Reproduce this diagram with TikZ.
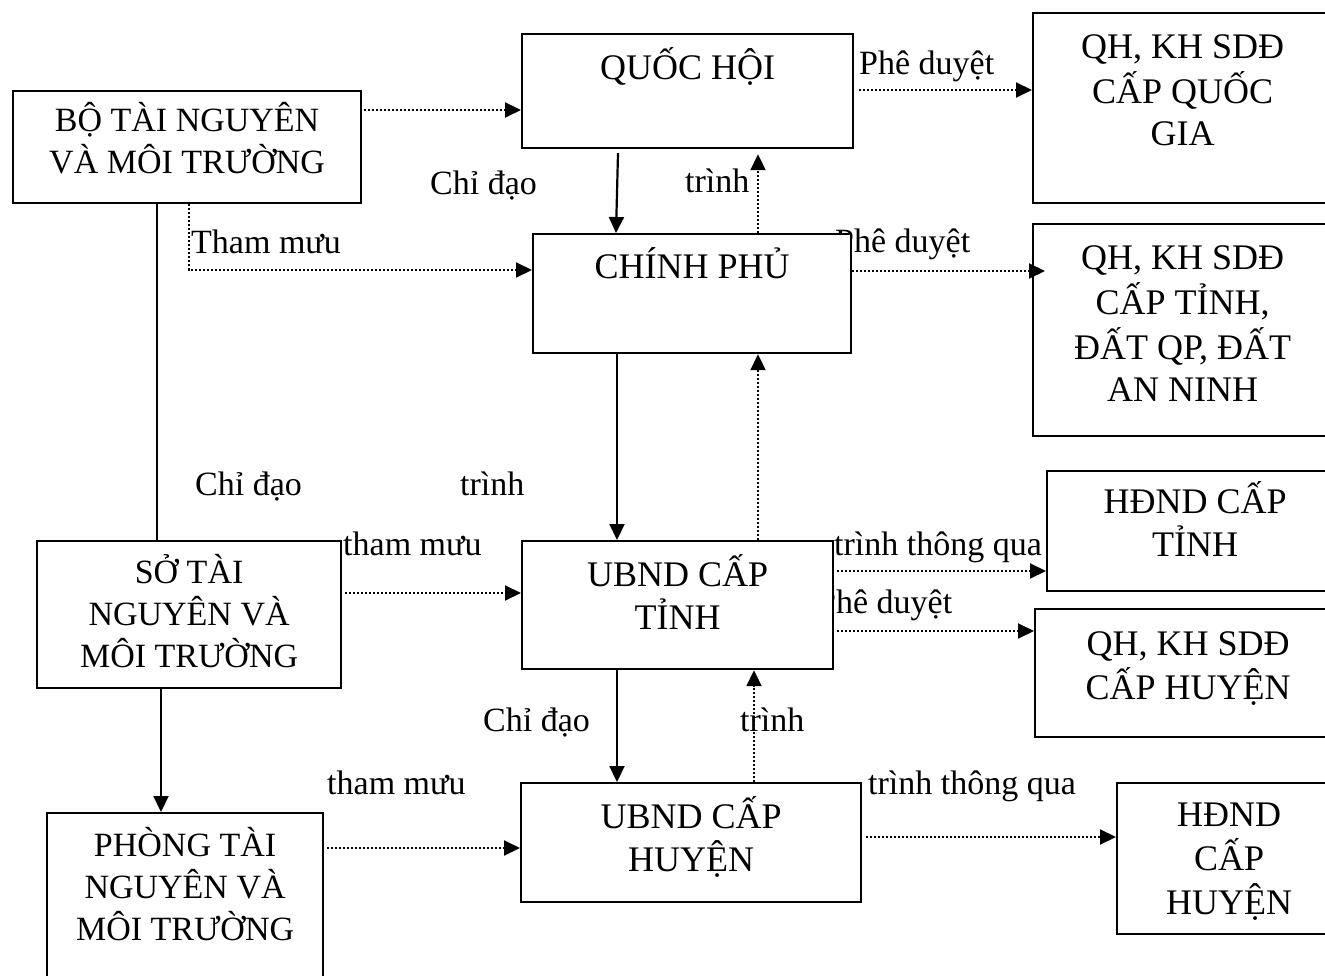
\documentclass[tikz,border=0pt]{standalone}
\usepackage{fontspec}
\setmainfont{Liberation Serif}
\usetikzlibrary{arrows.meta,calc}
\begin{document}
\begin{tikzpicture}[x=1pt,y=-1pt,
  box/.style={draw, line width=2.2pt, fill=white, inner sep=0pt, anchor=north west},
  bigtxt/.style={font=\fontsize{36}{42}\selectfont, inner sep=0pt, anchor=base},
  midtxt/.style={font=\fontsize{34}{42}\selectfont, inner sep=0pt, anchor=base},
  lbl/.style={font=\fontsize{34}{40}\selectfont, inner sep=0pt, anchor=base west},
  solidarrow/.style={line width=2.2pt, -{Triangle[length=16pt,width=15pt]}},
  solidline/.style={line width=2.2pt},
  dotarrow/.style={line width=2pt, dash pattern=on 2pt off 2pt, -{Triangle[length=16pt,width=15pt]}}
]
\useasboundingbox[fill=white] (0,0) rectangle (1325,976);

% connector labels (drawn first, boxes may cover them)
\node[lbl] (l1) at (859,75) {Phê duyệt};
\node[lbl] (l2) at (430,195) {Chỉ đạo};
\node[lbl] (l3) at (685,193) {trình};
\node[lbl] (l4) at (191,254) {Tham mưu};
\node[lbl] (l5) at (835,253) {Phê duyệt};
\node[lbl] (l6) at (195,495) {Chỉ đạo};
\node[lbl] (l7) at (460,495) {trình};
\node[lbl] (l8) at (343,555) {tham mưu};
\node[lbl] (l9) at (834,555) {trình thông qua};
\node[lbl] (l10) at (817,613) {Phê duyệt};
\node[lbl] (l11) at (483,731) {Chỉ đạo};
\node[lbl] (l12) at (740,731) {trình};
\node[lbl] (l13) at (327,794) {tham mưu};
\node[lbl] (l14) at (868,794) {trình thông qua};

% boxes
\node[box, minimum width=348pt, minimum height=112pt] (bo) at (12,90) {};
\node[box, minimum width=331pt, minimum height=114pt] (qh) at (521,33) {};
\node[box, minimum width=299pt, minimum height=190pt] (qg) at (1032,12) {};
\node[box, minimum width=318pt, minimum height=119pt] (cp) at (532,233) {};
\node[box, minimum width=299pt, minimum height=212pt] (tp) at (1032,223) {};
\node[box, minimum width=296pt, minimum height=120pt] (hdt) at (1046,470) {};
\node[box, minimum width=306pt, minimum height=128pt] (hp) at (1034,608) {};
\node[box, minimum width=304pt, minimum height=147pt] (so) at (36,540) {};
\node[box, minimum width=311pt, minimum height=128pt] (ubt) at (521,540) {};
\node[box, minimum width=340pt, minimum height=119pt] (uh) at (520,782) {};
\node[box, minimum width=224pt, minimum height=151pt] (hdh) at (1116,782) {};
\node[box, minimum width=276pt, minimum height=188pt] (phong) at (46,812) {};

% box texts
\node[midtxt] (boT) at ($(bo.north)+(0,42)$) {\begin{tabular}[t]{@{}c@{}}BỘ TÀI NGUYÊN\\VÀ MÔI TRƯỜNG\end{tabular}};
\node[bigtxt] (qhT) at ($(qh.north)+(0,47)$) {QUỐC HỘI};
\node[bigtxt] (qgT) at ($(qg.north)+(0,47)$) {\begin{tabular}[t]{@{}c@{}}QH, KH SDĐ\\CẤP QUỐC\\GIA\end{tabular}};
\node[bigtxt] (cpT) at ($(cp.north)+(0,46)$) {CHÍNH PHỦ};
\node[bigtxt] (tpT) at ($(tp.north)+(0,47)$) {\begin{tabular}[t]{@{}c@{}}QH, KH SDĐ\\CẤP TỈNH,\\ĐẤT QP, ĐẤT\\AN NINH\end{tabular}};
\node[bigtxt] (hdtT) at ($(hdt.north)+(0,43)$) {\begin{tabular}[t]{@{}c@{}}HĐND CẤP\\TỈNH\end{tabular}};
\node[bigtxt] (hpT) at ($(hp.north)+(0,47)$) {\begin{tabular}[t]{@{}c@{}}QH, KH SDĐ\\CẤP HUYỆN\end{tabular}};
\node[midtxt] (soT) at ($(so.north)+(0,43)$) {\begin{tabular}[t]{@{}c@{}}SỞ TÀI\\NGUYÊN VÀ\\MÔI TRƯỜNG\end{tabular}};
\node[bigtxt] (ubtT) at ($(ubt.north)+(0,46)$) {\begin{tabular}[t]{@{}c@{}}UBND CẤP\\TỈNH\end{tabular}};
\node[bigtxt] (uhT) at ($(uh.north)+(0,46)$) {\begin{tabular}[t]{@{}c@{}}UBND CẤP\\HUYỆN\end{tabular}};
\node[bigtxt] (hdhT) at ($(hdh.north)+(0,44)$) {\begin{tabular}[t]{@{}c@{}}HĐND\\CẤP\\HUYỆN\end{tabular}};
\node[midtxt] (phongT) at ($(phong.north)+(0,44)$) {\begin{tabular}[t]{@{}c@{}}PHÒNG TÀI\\NGUYÊN VÀ\\MÔI TRƯỜNG\end{tabular}};

% connectors
\draw[dotarrow] ([xshift=2pt]bo.east |- 0,110) -- (qh.west |- 0,110);
\draw[dotarrow] (bo.south -| 189,0) |- (cp.west |- 0,270);
\draw[solidarrow] ($(qh.south -| 618,0)+(0,4)$) -- (cp.north -| 616,0);
\draw[dotarrow] (cp.north -| 758,0) -- ($(qh.south -| 758,0)+(0,5)$);
\draw[dotarrow] ([xshift=5pt]qh.east |- 0,90) -- (qg.west |- 0,90);
\draw[dotarrow] (cp.east |- 0,271) -- ([xshift=13pt]tp.west |- 0,271);
\draw[solidarrow] (cp.south -| 617,0) -- (ubt.north -| 617,0);
\draw[dotarrow] (ubt.north -| 758,0) -- (cp.south -| 758,0);
\draw[solidline] (bo.south -| 157,0) -- (so.north -| 157,0);
\draw[dotarrow] ([xshift=3pt]so.east |- 0,593) -- (ubt.west |- 0,593);
\draw[dotarrow] ([xshift=3pt]ubt.east |- 0,571) -- (hdt.west |- 0,571);
\draw[dotarrow] ([xshift=3pt]ubt.east |- 0,631) -- (hp.west |- 0,631);
\draw[solidarrow] (ubt.south -| 617,0) -- (uh.north -| 617,0);
\draw[dotarrow] (uh.north -| 754,0) -- (ubt.south -| 754,0);
\draw[solidarrow] (so.south -| 161,0) -- (phong.north -| 161,0);
\draw[dotarrow] ([xshift=3pt]phong.east |- 0,848) -- (uh.west |- 0,848);
\draw[dotarrow] ([xshift=4pt]uh.east |- 0,837) -- (hdh.west |- 0,837);
\end{tikzpicture}
\end{document}
